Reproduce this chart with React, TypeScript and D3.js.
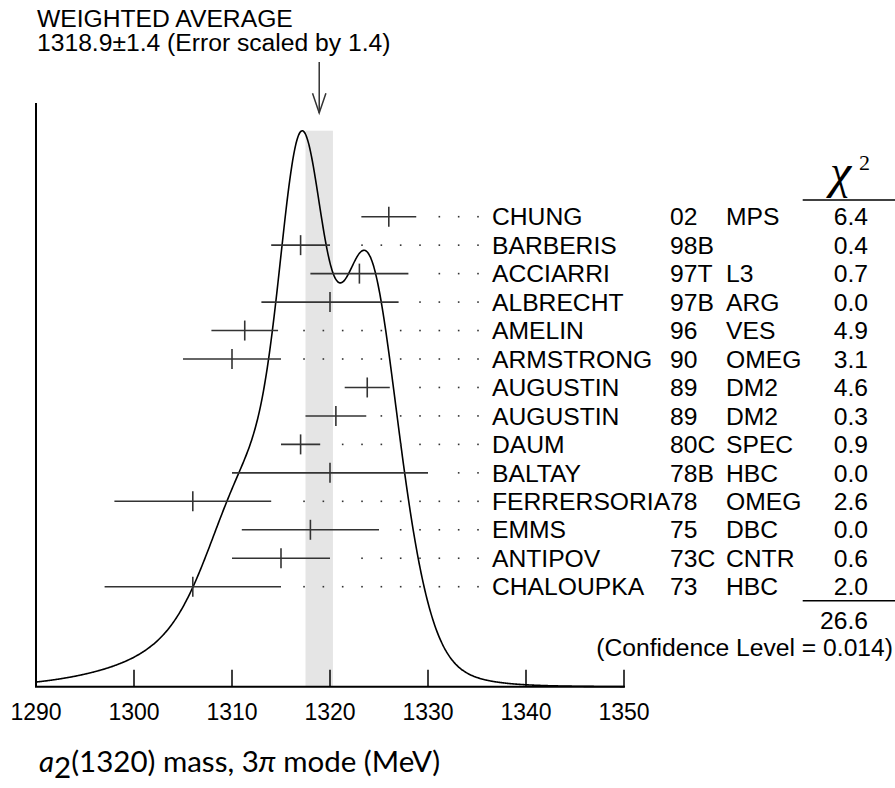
import * as d3 from 'd3';
import React from 'react';

// measurements (MeV) and their errors, top row first
const authors = ['CHUNG', 'BARBERIS', 'ACCIARRI', 'ALBRECHT', 'AMELIN', 'ARMSTRONG', 'AUGUSTIN', 'AUGUSTIN', 'DAUM', 'BALTAY', 'FERRERSORIA', 'EMMS', 'ANTIPOV', 'CHALOUPKA'];
const years = ['02', '98B', '97T', '97B', '96', '90', '89', '89', '80C', '78B', '78', '75', '73C', '73'];
const techs = ['MPS', '', 'L3', 'ARG', 'VES', 'OMEG', 'DM2', 'DM2', 'SPEC', 'HBC', 'OMEG', 'DBC', 'CNTR', 'HBC'];
const masses = [1326.0, 1317.0, 1323.0, 1320.0, 1311.3, 1310.0, 1323.8, 1320.6, 1317.0, 1320.0, 1306.0, 1318.0, 1315.0, 1306.0];
const errors = [2.8, 3.0, 5.0, 7.0, 3.4, 5.0, 2.3, 3.1, 2.0, 10.0, 8.0, 7.0, 5.0, 9.0];
const chi2 = ['6.4', '0.4', '0.7', '0.0', '4.9', '3.1', '4.6', '0.3', '0.9', '0.0', '2.6', '0.0', '0.6', '2.0'];
const chi2Total = '26.6';
const confidence = '(Confidence Level = 0.014)';
const average = 1318.9;
const averageErr = 1.4;
const xTicks = [1290, 1300, 1310, 1320, 1330, 1340, 1350];

const W = 895;
const H = 788;
const axisY = 686.7;
const sans = "'Liberation Sans', Arial, Helvetica, sans-serif";
const serif = "'Liberation Serif', 'Times New Roman', serif";

// the labels in the reference are a touch wider than plain Arial
const T = ({ x, y, anchor = 'start', size = 23.5, children }: any) => (
  <text
    transform={`translate(${x},${y}) scale(1.05,1)`}
    fontSize={size}
    textAnchor={anchor}
  >
    {children}
  </text>
);

export default function App() {
  const x = d3.scaleLinear().domain([1290, 1350]).range([36, 624]);
  const rowY = d3.scaleLinear().domain([0, authors.length - 1]).range([216.7, 586.7]);

  // ideogram: each measurement is a gaussian with area proportional to 1/sigma
  const grid = d3.range(1290, 1350.001, 0.1);
  const density = (m: number) =>
    d3.sum(masses, (mu, i) => Math.exp(-((m - mu) ** 2) / (2 * errors[i] ** 2)) / errors[i] ** 2);
  const pts = grid.map((m) => [m, density(m)] as [number, number]);
  const fmax = d3.max(pts, (p) => p[1]) as number;
  const yD = d3.scaleLinear().domain([0, fmax]).range([axisY, 130.7]);
  const line = d3
    .line<[number, number]>()
    .x((p) => x(p[0]))
    .y((p) => yD(p[1]))
    .curve(d3.curveBasis);

  const dotStep = 19.33;
  const dotEnd = 478;
  const leaderDots = (i: number) => {
    const barEnd = x(masses[i] + errors[i]);
    const out: number[] = [];
    for (let px = dotEnd; px >= barEnd + 14.5; px -= dotStep) out.push(px);
    return out;
  };

  const arrowX = x(average);

  return (
    <svg
      width={W}
      height={H}
      style={{ position: 'absolute', left: 0, top: 0, background: '#fff' }}
      fontFamily={sans}
    >
      {/* weighted average band */}
      <rect
        x={x(average - averageErr)}
        y={yD(fmax)}
        width={x(average + averageErr) - x(average - averageErr)}
        height={axisY - yD(fmax)}
        fill="#e5e5e5"
      />

      {/* header */}
      <T x={37} y={26.7}>WEIGHTED AVERAGE</T>
      <T x={37} y={50.5}>{`${average.toFixed(1)}\u00b1${averageErr.toFixed(1)} (Error scaled by 1.4)`}</T>
      <g stroke="#333" strokeWidth={1.5} fill="none">
        <line x1={arrowX} x2={arrowX} y1={62} y2={113} />
        <polyline points={`${arrowX - 6.7},${93.3} ${arrowX},${113} ${arrowX + 6.7},${93.3}`} />
      </g>

      {/* axes */}
      <line x1={x(1290)} x2={x(1290)} y1={103} y2={axisY} stroke="#000" strokeWidth={2} />
      <line x1={x(1290) - 1} x2={x(1350) + 1} y1={axisY} y2={axisY} stroke="#000" strokeWidth={2} />
      {xTicks.map((t) => (
        <g key={t}>
          <line x1={x(t)} x2={x(t)} y1={axisY} y2={axisY - 17} stroke="#000" strokeWidth={1.5} />
          <text x={x(t)} y={720} fontSize={23} textAnchor="middle">{t}</text>
        </g>
      ))}

      {/* ideogram curve */}
      <path d={line(pts) as string} fill="none" stroke="#000" strokeWidth={1.6} />

      {/* measurements */}
      {masses.map((m, i) => {
        const y = rowY(i);
        return (
          <g key={i}>
            <line x1={x(m - errors[i])} x2={x(m + errors[i])} y1={y} y2={y} stroke="#333" strokeWidth={1.6} />
            <line x1={x(m)} x2={x(m)} y1={y - 10} y2={y + 10} stroke="#333" strokeWidth={1.6} />
            {leaderDots(i).map((px) => (
              <rect key={px} x={px - 0.8} y={y - 0.8} width={1.6} height={1.6} fill="#333" />
            ))}
            <T x={492} y={y + 8.7}>{authors[i]}</T>
            <T x={670} y={y + 8.7}>{years[i]}</T>
            <T x={726} y={y + 8.7}>{techs[i]}</T>
            <T x={868} y={y + 8.7} anchor="end">{chi2[i]}</T>
          </g>
        );
      })}

      {/* chi2 header and totals */}
      <text x={830} y={188} fontSize={48} fontStyle="italic" fontFamily={serif}>χ</text>
      <text x={859} y={170} fontSize={22} fontFamily={serif}>2</text>
      <line x1={802.7} x2={895} y1={200} y2={200} stroke="#000" strokeWidth={1.5} />
      <line x1={802.7} x2={895} y1={600.7} y2={600.7} stroke="#000" strokeWidth={1.5} />
      <T x={868} y={628.5} anchor="end">{chi2Total}</T>
      <T x={893} y={656} anchor="end">{confidence}</T>

      {/* x-axis title */}
      <text x={39} y={772} fontSize={29.5} fontFamily="Lato, 'DejaVu Sans', sans-serif">
        <tspan fontStyle="italic">a</tspan>
        <tspan dy={6}>2</tspan>
        <tspan dy={-6}>(1320) mass, 3</tspan>
        <tspan fontStyle="italic">π</tspan>
        <tspan> mode (MeV)</tspan>
      </text>
    </svg>
  );
}
